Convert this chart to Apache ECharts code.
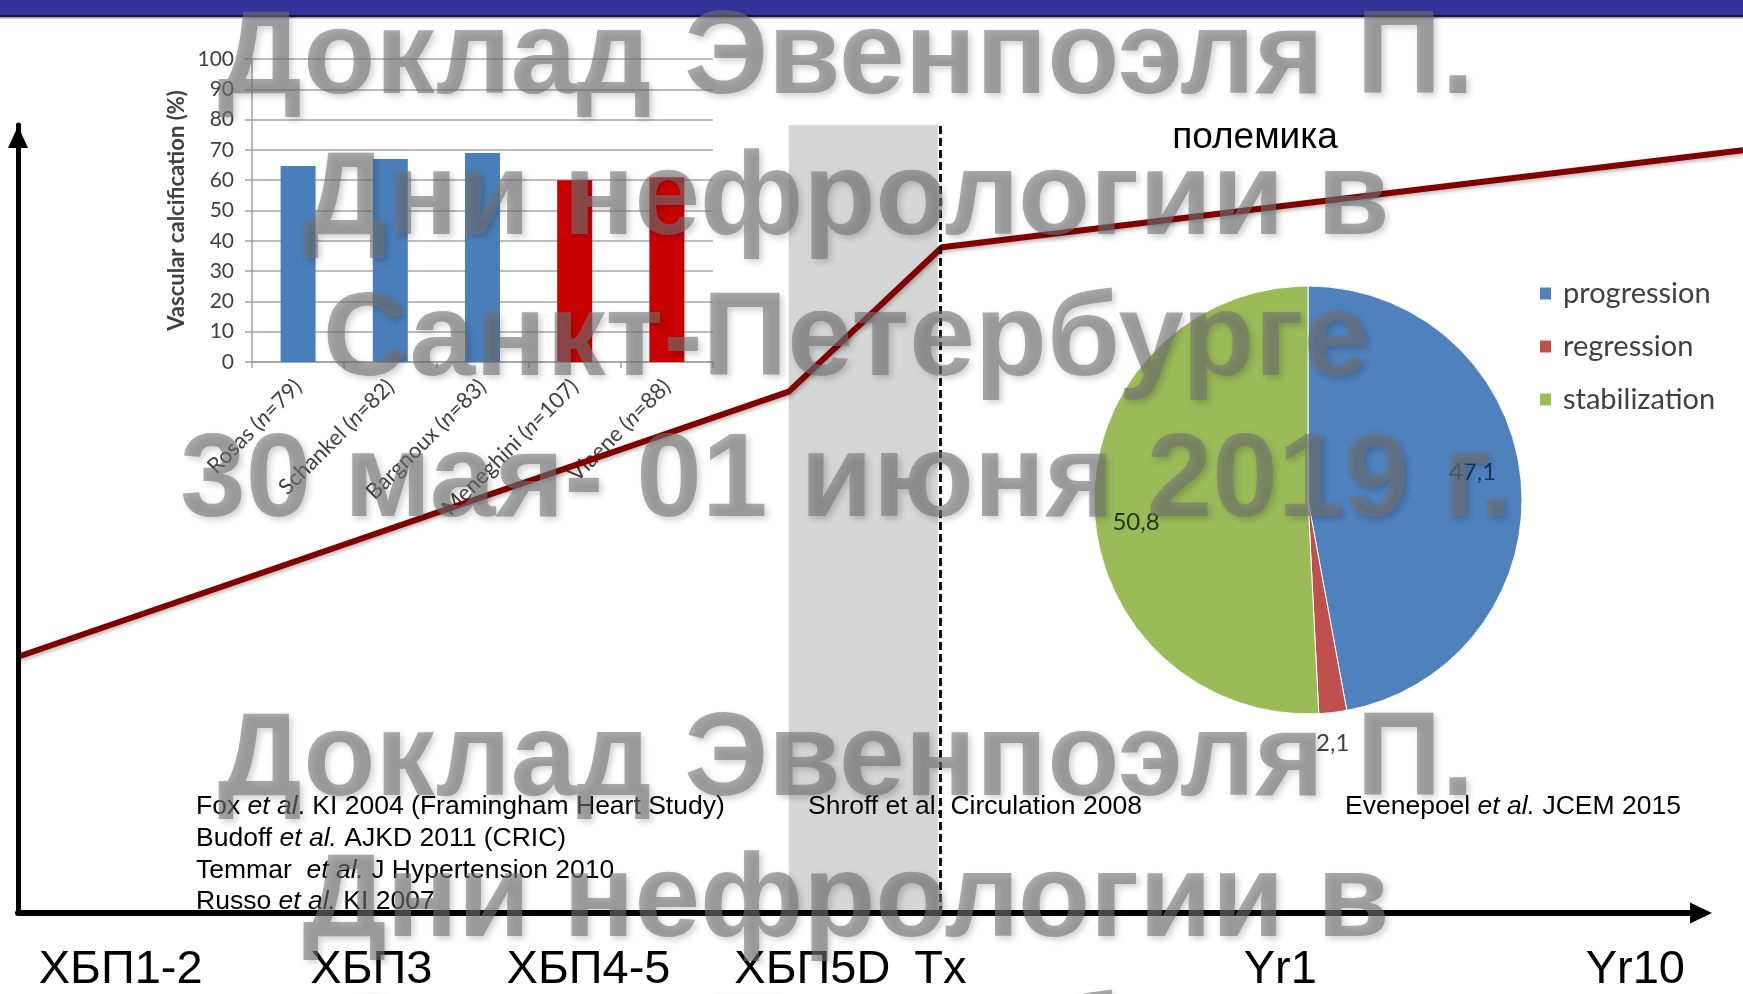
<!DOCTYPE html>
<html>
<head>
<meta charset="utf-8">
<script src="https://cdn.jsdelivr.net/npm/echarts@6/dist/echarts.min.js"></script>
<style>
  html, body { margin: 0; padding: 0; background: #ffffff; }
  #c { width: 1743px; height: 994px; }
</style>
</head>
<body>
<div id="c"></div>
<script>
// Stages of CKD along the time axis (positions in axis units 0..100)
const stageLabels = ['ХБП1-2', 'ХБП3', 'ХБП4-5', 'ХБП5D', 'Tx', 'Yr1', 'Yr10'];
const stagePos = [6.1, 21.0, 33.9, 47.2, 54.8, 75.0, 96.1];

// Calcification burden trend across the stages (runs past the arrow to the edge)
const trendX = [0, 45.8, 54.9, 102.5];
const trendY = [32.6, 66.2, 84.5, 96.8];
const trendXMax = 102.5;

// Dialysis span (shaded) and the transplantation moment (dashed)
const dialysisSpan = [45.8, 54.65];
const transplantAt = 54.8;

// Inset bar chart: prevalence of vascular calcification by study
const studyNames = ['Rosas', 'Schankel', 'Bargnoux', 'Meneghini', 'Viaene'];
const studySize = [79, 82, 83, 107, 88];
const calcPercent = [64.7, 67.0, 69.0, 60.0, 61.0];
const pctMax = 100;
const pctStep = 10;

// Inset pie chart: course of calcification after transplantation
const courseNames = ['progression', 'regression', 'stabilization'];
const courseShare = [47.1, 2.1, 50.8];

// Styling
const barColors = ['#4a7ebb', '#4a7ebb', '#4a7ebb', '#c80000', '#c80000'];
const pieColors = ['#4f81bd', '#c0504d', '#9bbb59'];
const pieLabelColors = ['#17365d', '#404040', '#25350f'];
const pieLabelShift = [[55, -18], [12, 134], [-62, 20]];

const ARIAL = '"Liberation Sans", Arial, sans-serif';
const CALIBRI = 'Lato, "Open Sans", sans-serif';

const watermarkLines = [
  'Доклад Эвенпоэля П.',
  'Дни нефрологии в',
  'Санкт-Петербурге',
  '30 мая- 01 июня 2019 г.'
];

function watermarkText(str, y) {
  return {
    type: 'text', x: 846, y: y, z: 100, silent: true,
    style: {
      text: str,
      font: 'bold 118px "Liberation Sans", Arial, sans-serif',
      fill: 'rgba(115,115,115,0.6)',
      textAlign: 'center', align: 'center',
      textVerticalAlign: 'middle', verticalAlign: 'middle',
      shadowColor: 'rgba(0,0,0,0.3)', shadowBlur: 6, shadowOffsetX: 3, shadowOffsetY: 3,
      textShadowColor: 'rgba(0,0,0,0.3)', textShadowBlur: 6, textShadowOffsetX: 3, textShadowOffsetY: 3
    }
  };
}

const watermarkRows = [60, 201, 342, 483, 762, 903, 1044];
const watermark = watermarkRows.map((y, i) => watermarkText(watermarkLines[i % 4], y));

const REF_SIZE = 26.5;
const REF_LH = 31.7;
const refStyle = {
  fontFamily: ARIAL, fontSize: REF_SIZE, fontWeight: 'normal', color: '#000', lineHeight: REF_LH,
  rich: { i: { fontStyle: 'italic', fontFamily: ARIAL, fontSize: REF_SIZE, color: '#000', lineHeight: REF_LH } }
};

const chart = echarts.init(document.getElementById('c'), null, { renderer: 'canvas' });

chart.setOption({
  animation: false,
  backgroundColor: '#ffffff',
  title: [
    {
      left: 196, top: 791, padding: 0,
      text: [
        'Fox {i|et al}. KI 2004 (Framingham Heart Study)',
        'Budoff {i|et al.} AJKD 2011 (CRIC)',
        'Temmar  {i|et al.} J Hypertension 2010',
        'Russo {i|et al.} KI 2007'
      ].join('\n'),
      textStyle: refStyle
    },
    { left: 808, top: 791, padding: 0, text: 'Shroff et al. Circulation 2008', textStyle: refStyle },
    { left: 1345, top: 791, padding: 0, text: 'Evenepoel {i|et al.} JCEM 2015', textStyle: refStyle }
  ],
  legend: {
    data: courseNames,
    orient: 'vertical',
    left: 1533, top: 274,
    icon: 'rect', itemWidth: 13, itemHeight: 14, itemGap: 24,
    selectedMode: false,
    textStyle: { fontFamily: CALIBRI, fontSize: 29, color: '#404040', padding: [0, 0, 0, 6] }
  },
  grid: [
    { left: 18, right: 42, top: 125, bottom: 80 },
    { left: 252, right: 1030, top: 59, bottom: 632 },
    { left: 18, right: 0, top: 125, bottom: 80 }
  ],
  xAxis: [
    {
      gridIndex: 0, type: 'value', min: 0, max: 100, z: 10,
      axisLine: {
        show: true, onZero: false,
        symbol: ['none', 'triangle'], symbolSize: [21, 22],
        lineStyle: { color: '#000', width: 6 }
      },
      axisTick: { show: false },
      splitLine: { show: false },
      axisLabel: {
        customValues: stagePos,
        margin: 34,
        fontFamily: ARIAL, fontSize: 47, color: '#000',
        formatter: v => stageLabels[stagePos.indexOf(v)]
      }
    },
    {
      gridIndex: 1, type: 'category', data: studyNames,
      axisLine: { show: true, lineStyle: { color: '#a0a0a0', width: 1.5 } },
      axisTick: { show: true, length: 6, lineStyle: { color: '#a0a0a0', width: 1.5 } },
      axisLabel: {
        rotate: 45, interval: 0, margin: 21,
        formatter: (v, i) => '{t|' + studyNames[i] + ' (}{n|n}{t|=' + studySize[i] + ')}',
        rich: {
          t: { fontFamily: CALIBRI, fontSize: 22, color: '#404040' },
          n: { fontFamily: CALIBRI, fontSize: 22, color: '#404040', fontStyle: 'italic' }
        }
      }
    },
    { gridIndex: 2, type: 'value', min: 0, max: trendXMax, show: false }
  ],
  yAxis: [
    {
      gridIndex: 0, type: 'value', min: 0, max: 100, z: 10,
      axisLine: {
        show: true, onZero: false,
        symbol: ['none', 'triangle'], symbolSize: [20, 22], symbolOffset: [0, -12],
        lineStyle: { color: '#000', width: 5 }
      },
      axisTick: { show: false },
      axisLabel: { show: false },
      splitLine: { show: false }
    },
    {
      gridIndex: 1, type: 'value', min: 0, max: pctMax, interval: pctStep,
      name: 'Vascular calcification (%)',
      nameLocation: 'middle', nameGap: 64,
      nameTextStyle: { fontFamily: CALIBRI, fontSize: 22, fontWeight: 'bold', color: '#404040' },
      axisLine: { show: true, lineStyle: { color: '#a0a0a0', width: 1.5 } },
      axisTick: { show: true, length: 7, lineStyle: { color: '#a0a0a0', width: 1.5 } },
      splitLine: { show: true, lineStyle: { color: '#a6a6a6', width: 1.5 } },
      axisLabel: { margin: 18, fontFamily: CALIBRI, fontSize: 21, color: '#404040' }
    },
    { gridIndex: 2, type: 'value', min: 0, max: 100, show: false }
  ],
  series: [
    {
      type: 'line', xAxisIndex: 2, yAxisIndex: 2, z: 4,
      data: trendX.map((x, i) => [x, trendY[i]]),
      clip: false, symbol: 'none', silent: true,
      lineStyle: {
        color: '#800000', width: 6,
        shadowColor: 'rgba(0,0,0,0.3)', shadowBlur: 4, shadowOffsetX: 1, shadowOffsetY: 2
      },
      markArea: {
        silent: true, z: 1,
        itemStyle: { color: '#d6d6d6' },
        data: [[{ xAxis: dialysisSpan[0] }, { xAxis: dialysisSpan[1] }]]
      },
      markLine: {
        silent: true, symbol: ['none', 'none'],
        label: { show: false },
        lineStyle: { color: '#000', width: 2.8, type: [8, 4] },
        data: [{ xAxis: transplantAt }]
      }
    },
    {
      type: 'bar', xAxisIndex: 1, yAxisIndex: 1, z: 3,
      data: calcPercent, barWidth: 35, silent: true,
      itemStyle: { color: p => barColors[p.dataIndex] }
    },
    {
      type: 'pie', center: [1308, 500], radius: 214,
      startAngle: 90, clockwise: true, silent: true,
      data: courseNames.map((n, i) => ({
        name: n, value: courseShare[i],
        itemStyle: { color: pieColors[i] },
        label: { color: pieLabelColors[i] }
      })),
      itemStyle: { borderColor: '#ffffff', borderWidth: 1 },
      label: {
        show: true, position: 'inside',
        fontFamily: CALIBRI, fontSize: 24,
        formatter: p => String(p.value).replace('.', ',')
      },
      labelLine: { show: false },
      labelLayout: p => ({ dx: pieLabelShift[p.dataIndex][0], dy: pieLabelShift[p.dataIndex][1] }),
      emphasis: { disabled: true }
    }
  ],
  graphic: [
    { type: 'rect', z: 50, silent: true, shape: { x: 0, y: 0, width: 1743, height: 15 }, style: { fill: '#333399' } },
    { type: 'rect', z: 50, silent: true, shape: { x: 0, y: 15, width: 1743, height: 2 }, style: { fill: '#15153d' } },
    { type: 'rect', z: 50, silent: true, shape: { x: 0, y: 17, width: 1743, height: 1.5 }, style: { fill: '#a0a0a0' } },
    {
      type: 'text', x: 1255, y: 138, z: 60, silent: true,
      style: {
        text: 'полемика', font: '37px "Liberation Sans", Arial, sans-serif', fill: '#000',
        textAlign: 'center', align: 'center', textVerticalAlign: 'middle', verticalAlign: 'middle'
      }
    }
  ].concat(watermark)
});
</script>
</body>
</html>
